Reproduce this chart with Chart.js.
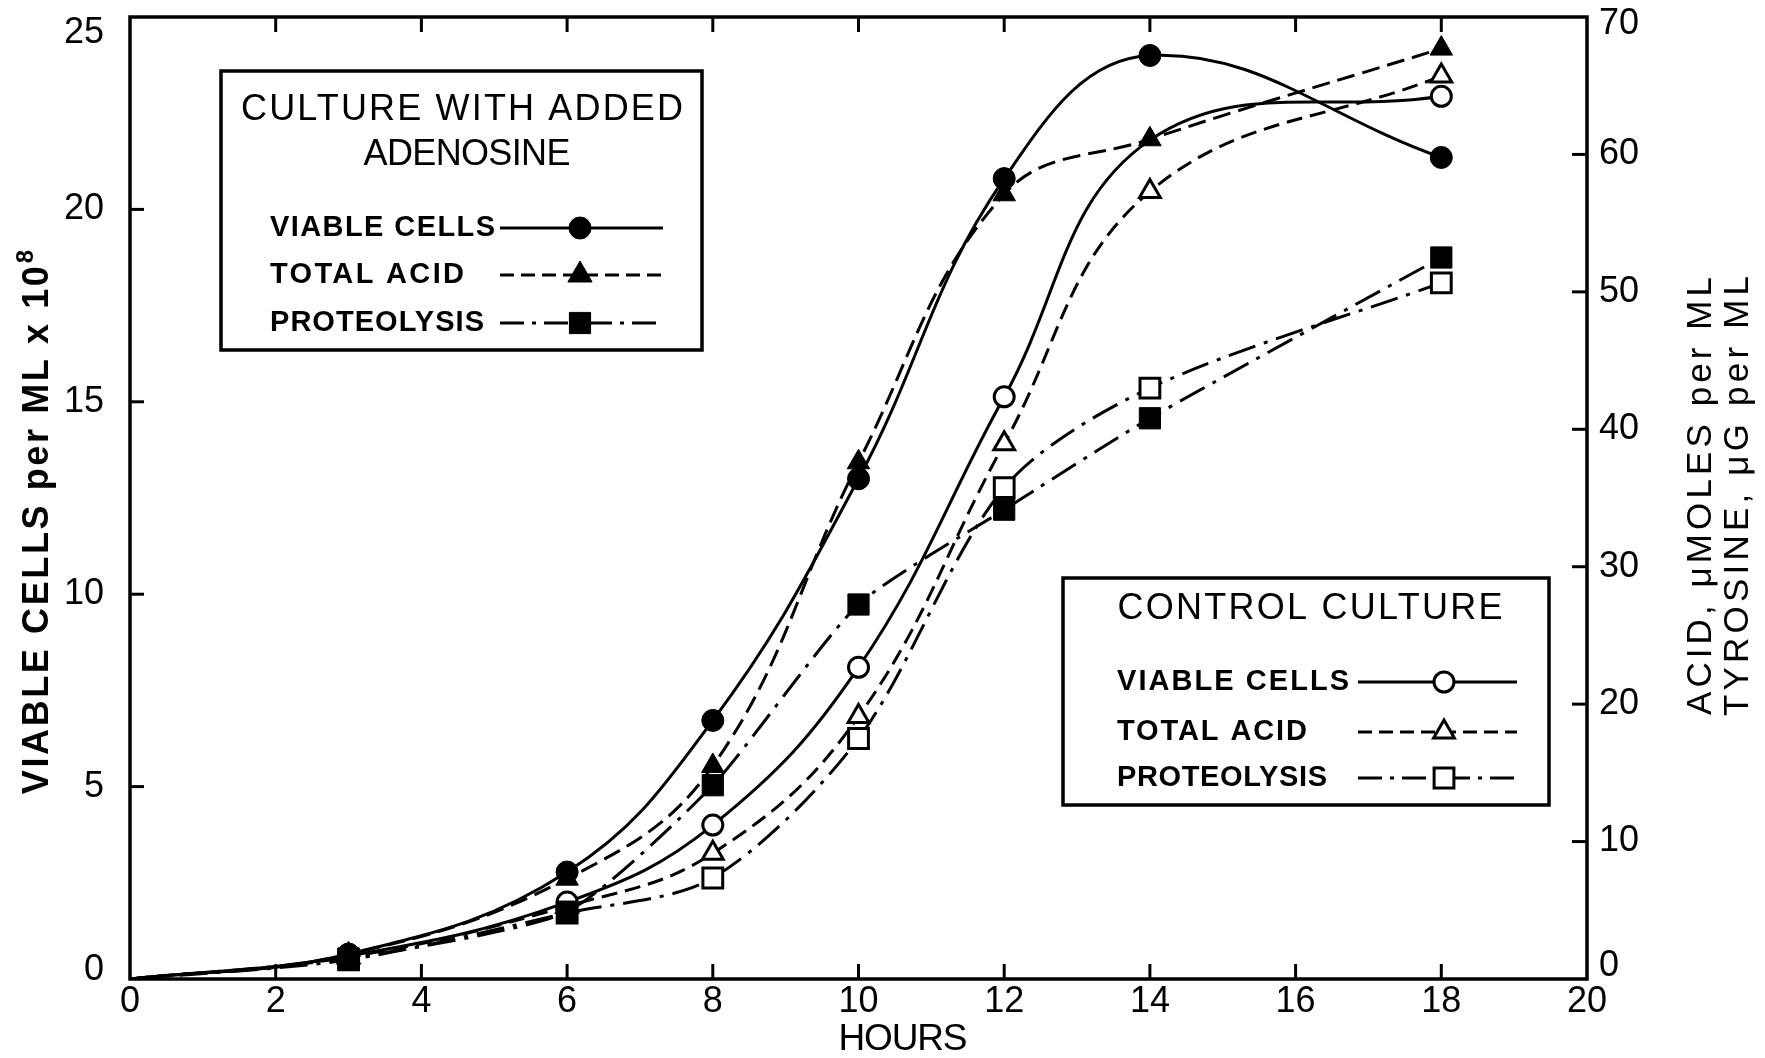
<!DOCTYPE html>
<html>
<head>
<meta charset="utf-8">
<script src="https://cdn.jsdelivr.net/npm/chart.js"></script>
<style>
html,body{margin:0;padding:0;background:#fff;overflow:hidden}
canvas{display:block}
</style>
</head>
<body>
<canvas id="c" width="1765" height="1058"></canvas>
<script>
// ---- data ----
const hours = [0, 3, 6, 8, 10, 12, 14, 18];
// Culture with added adenosine
const adenosineViable  = [0, 0.65, 2.78, 6.72, 13.0, 20.8, 24.0, 21.35];   // left axis, cells x 10^8
const adenosineAcid    = [0, 1.8, 7.3, 15.5, 37.6, 57.1, 61.1, 67.7];      // right axis
const adenosineProteo  = [0, 1.5, 4.9, 14.1, 27.25, 34.15, 40.8, 52.5];    // right axis
// Control culture
const controlViable    = [0, 0.6, 2.0, 4.0, 8.1, 15.13, 21.8, 22.94];      // left axis
const controlAcid      = [0, 1.6, 5.3, 9.15, 19.1, 38.95, 57.3, 65.7];     // right axis
const controlProteo    = [0, 1.4, 4.8, 7.35, 17.5, 35.75, 43.0, 50.65];    // right axis

const xTickValues     = [0, 2, 4, 6, 8, 10, 12, 14, 16, 18, 20];
const leftTickValues  = [0, 5, 10, 15, 20, 25];
const rightTickValues = [0, 10, 20, 30, 40, 50, 60, 70];

const xTitle = 'HOURS';
const leftTitle = 'VIABLE CELLS per ML x 10';
const leftTitleExponent = '8';
const rightTitleLines = ['ACID, \u03BCMOLES per ML', 'TYROSINE, \u03BCG per ML'];
const legendAdenosineTitle = ['CULTURE WITH ADDED', 'ADENOSINE'];
const legendControlTitle = ['CONTROL CULTURE'];
const legendItems = ['VIABLE CELLS', 'TOTAL ACID', 'PROTEOLYSIS'];

// ---- styling ----
const FONT = "'Liberation Sans', 'DejaVu Sans', Arial, sans-serif";
const DASH_ACID = [18, 8];
const DASH_PROTEO = [28, 9, 4, 9];

function points(ys) { return hours.map((h, i) => ({ x: h, y: ys[i] })); }
// no marker at the origin; hiddenAt lists hours whose marker is covered in the original
const markerRadius = (r, hiddenAt) => c => (c.raw && (c.raw.x === 0 || hiddenAt.includes(c.raw.x)) ? 0 : r);

function series(label, ys, axis, style, filled, r, dash, tension, hiddenAt) {
  return {
    label, data: points(ys), yAxisID: axis,
    borderColor: '#000', borderWidth: 3, borderDash: dash, tension,
    pointStyle: style, pointRadius: markerRadius(r, hiddenAt || []), pointHoverRadius: markerRadius(r, hiddenAt || []),
    pointBorderWidth: filled ? 1 : 3,
    pointBackgroundColor: filled ? '#000' : '#fff', pointBorderColor: '#000',
    fill: false
  };
}

function measureSpaced(ctx, text, width) {
  const n = Array.from(text).length;
  if ('letterSpacing' in ctx) ctx.letterSpacing = '0px';
  const w0 = ctx.measureText(text).width;
  let sp = (width && n > 1) ? (width - w0) / (n - 1) : 0;
  if (!('letterSpacing' in ctx)) sp = 0;
  return { w0, sp, total: w0 + sp * (n - 1) };
}

function spacedText(ctx, text, x, y, width, align, rot) {
  ctx.save();
  ctx.translate(x, y);
  if (rot) ctx.rotate(rot);
  ctx.textBaseline = 'middle';
  ctx.textAlign = 'left';
  const m = measureSpaced(ctx, text, width);
  if (m.sp) ctx.letterSpacing = m.sp + 'px';
  const x0 = align === 'center' ? -m.total / 2 : (align === 'right' ? -m.total : 0);
  ctx.fillText(text, x0, 0);
  ctx.restore();
}

function marker(ctx, style, filled, x, y, r) {
  ctx.save();
  ctx.setLineDash([]);
  ctx.beginPath();
  if (style === 'circle') {
    ctx.arc(x, y, r, 0, Math.PI * 2);
  } else if (style === 'triangle') {
    let a = 0;
    ctx.moveTo(x + Math.sin(a) * r, y - Math.cos(a) * r);
    a += Math.PI * 2 / 3;
    ctx.lineTo(x + Math.sin(a) * r, y - Math.cos(a) * r);
    a += Math.PI * 2 / 3;
    ctx.lineTo(x + Math.sin(a) * r, y - Math.cos(a) * r);
    ctx.closePath();
  } else {
    const s = r * Math.SQRT1_2;
    ctx.rect(x - s, y - s, 2 * s, 2 * s);
  }
  ctx.fillStyle = filled ? '#000' : '#fff';
  ctx.fill();
  ctx.lineWidth = filled ? 1 : 3;
  ctx.strokeStyle = '#000';
  ctx.stroke();
  ctx.restore();
}

function sample(ctx, x1, x2, y, dash, style, filled, mx, r) {
  ctx.save();
  ctx.strokeStyle = '#000';
  ctx.lineWidth = 3;
  ctx.setLineDash(dash);
  ctx.beginPath();
  ctx.moveTo(x1, y); ctx.lineTo(x2, y);
  ctx.stroke();
  ctx.restore();
  marker(ctx, style, filled, mx, y, r);
}

function drawLegend(ctx, box, titles, filled) {
  ctx.save();
  ctx.fillStyle = '#fff';
  ctx.fillRect(box.x, box.y, box.w, box.h);
  ctx.lineWidth = 3.5;
  ctx.strokeStyle = '#000';
  ctx.setLineDash([]);
  ctx.strokeRect(box.x, box.y, box.w, box.h);
  ctx.fillStyle = '#000';
  ctx.font = '36px ' + FONT;
  titles.forEach((t, i) => spacedText(ctx, t, box.tcx[i], box.ty[i], box.tw[i], 'center'));
  ctx.font = 'bold 29px ' + FONT;
  const styles = [['circle', [], box.r[0]], ['triangle', [14, 7], box.r[1]], ['rect', [24, 8, 4, 8], box.r[2]]];
  legendItems.forEach((t, i) => {
    spacedText(ctx, t, box.ix, box.iy[i], box.iw[i], 'left');
    sample(ctx, box.lx1, box.lx2, box.iy[i], styles[i][1], styles[i][0], filled, box.mx, styles[i][2]);
  });
  ctx.restore();
}

const decor = {
  id: 'decor',
  afterDraw(chart) {
    const { ctx, chartArea: a, scales } = chart;
    ctx.save();
    ctx.strokeStyle = '#000';
    ctx.setLineDash([]);
    ctx.lineWidth = 3.5;
    ctx.strokeRect(a.left, a.top, a.right - a.left, a.bottom - a.top);
    ctx.lineWidth = 3;
    const TL = 15;
    const seg = (x1, y1, x2, y2) => { ctx.beginPath(); ctx.moveTo(x1, y1); ctx.lineTo(x2, y2); ctx.stroke(); };
    scales.x.ticks.forEach(t => {
      if (t.value <= scales.x.min || t.value >= scales.x.max) return;
      const px = scales.x.getPixelForValue(t.value);
      seg(px, a.bottom, px, a.bottom - TL);
      seg(px, a.top, px, a.top + TL);
    });
    scales.y.ticks.forEach(t => {
      if (t.value <= scales.y.min || t.value >= scales.y.max) return;
      const py = scales.y.getPixelForValue(t.value);
      seg(a.left, py, a.left + 14, py);
    });
    scales.y2.ticks.forEach(t => {
      if (t.value <= scales.y2.min || t.value >= scales.y2.max) return;
      const py = scales.y2.getPixelForValue(t.value);
      seg(a.right, py, a.right - TL, py);
    });

    // legends
    drawLegend(ctx, {
      x: 221, y: 71, w: 481, h: 279,
      tcx: [462, 467], ty: [110, 155], tw: [442, 207],
      ix: 270, iy: [228, 275, 323], iw: [225, 194, 214],
      lx1: 500, lx2: 663, mx: 580, r: [11, 14, 15]
    }, legendAdenosineTitle, true);
    drawLegend(ctx, {
      x: 1063, y: 578, w: 486, h: 227,
      tcx: [1310], ty: [609], tw: [385],
      ix: 1117, iy: [682, 732, 778], iw: [232, 190, 210],
      lx1: 1358, lx2: 1517, mx: 1444, r: [10, 12, 14]
    }, legendControlTitle, false);

    // left axis title with raised exponent
    ctx.fillStyle = '#000';
    ctx.save();
    ctx.translate(38, 522);
    ctx.rotate(-Math.PI / 2);
    ctx.textBaseline = 'middle';
    ctx.textAlign = 'left';
    ctx.font = 'bold 36px ' + FONT;
    const mMain = measureSpaced(ctx, leftTitle, 528);
    ctx.font = 'bold 24px ' + FONT;
    const wExp = ctx.measureText(leftTitleExponent).width;
    const total = mMain.total + 3 + wExp;
    const x0 = -total / 2;
    ctx.font = 'bold 36px ' + FONT;
    if (mMain.sp) ctx.letterSpacing = mMain.sp + 'px';
    ctx.fillText(leftTitle, x0, 0);
    if ('letterSpacing' in ctx) ctx.letterSpacing = '0px';
    ctx.font = 'bold 24px ' + FONT;
    ctx.fillText(leftTitleExponent, x0 + mMain.total + 3, -12);
    ctx.restore();

    ctx.font = '35px ' + FONT;
    spacedText(ctx, rightTitleLines[0], 1701, 496, 438, 'center', -Math.PI / 2);
    spacedText(ctx, rightTitleLines[1], 1738, 496, 440, 'center', -Math.PI / 2);
    ctx.font = '37px ' + FONT;
    spacedText(ctx, xTitle, 903, 1040, 129, 'center');
    ctx.restore();
  }
};

const tickFont = (shifts) => (c) => {
  const v = c.tick ? c.tick.value : null;
  const lh = (v !== null && shifts[v] !== undefined) ? shifts[v] * 2 : 36;
  return { family: FONT, size: 36, lineHeight: lh + 'px' };
};

const endLabel = (top, bottom) => (v) => v === top ? ['', String(v)] : (v === bottom ? [String(v), ''] : String(v));

new Chart(document.getElementById('c'), {
  type: 'line',
  data: {
    datasets: [
      series('Adenosine viable cells', adenosineViable, 'y', 'circle', true, 11, [], 0.4),
      series('Adenosine total acid', adenosineAcid, 'y2', 'triangle', true, 13, DASH_ACID, 0.4),
      series('Adenosine proteolysis', adenosineProteo, 'y2', 'rect', true, 15, DASH_PROTEO, 0.2),
      series('Control viable cells', controlViable, 'y', 'circle', false, 10, [], 0.4, [14]),
      series('Control total acid', controlAcid, 'y2', 'triangle', false, 12, [16, 8], 0.4),
      series('Control proteolysis', controlProteo, 'y2', 'rect', false, 14, DASH_PROTEO, 0.3)
    ]
  },
  options: {
    responsive: false,
    animation: false,
    devicePixelRatio: 1,
    layout: { padding: { top: 16, left: 0, right: 0, bottom: 0 } },
    plugins: { legend: { display: false }, tooltip: { enabled: false }, title: { display: false } },
    events: [],
    scales: {
      x: {
        type: 'linear', position: 'bottom', min: 0, max: 20,
        afterBuildTicks: s => { s.ticks = xTickValues.map(v => ({ value: v })); },
        afterFit: s => { s.height = 79; s.paddingLeft = 0; s.paddingRight = 0; },
        grid: { display: false, drawTicks: false }, border: { display: false },
        ticks: { color: '#000', padding: 1, autoSkip: false, maxRotation: 0,
                 font: { family: FONT, size: 36, lineHeight: 1.2 }, callback: v => String(v) }
      },
      y: {
        type: 'linear', position: 'left', min: 0, max: 25,
        afterBuildTicks: s => { s.ticks = leftTickValues.map(v => ({ value: v })); },
        afterFit: s => { s.width = 130; s.paddingTop = 0; s.paddingBottom = 0; },
        grid: { display: false, drawTicks: false }, border: { display: false },
        ticks: { color: '#000', padding: 26, autoSkip: false,
                 font: tickFont({ 25: 16, 0: 9 }), callback: endLabel(25, 0) }
      },
      y2: {
        type: 'linear', position: 'right', min: 0, max: 70,
        afterBuildTicks: s => { s.ticks = rightTickValues.map(v => ({ value: v })); },
        afterFit: s => { s.width = 178; s.paddingTop = 0; s.paddingBottom = 0; },
        grid: { display: false, drawTicks: false }, border: { display: false },
        ticks: { color: '#000', padding: 12, autoSkip: false,
                 font: tickFont({ 70: 7, 0: 13 }), callback: endLabel(70, 0) }
      }
    }
  },
  plugins: [decor]
});
</script>
</body>
</html>
